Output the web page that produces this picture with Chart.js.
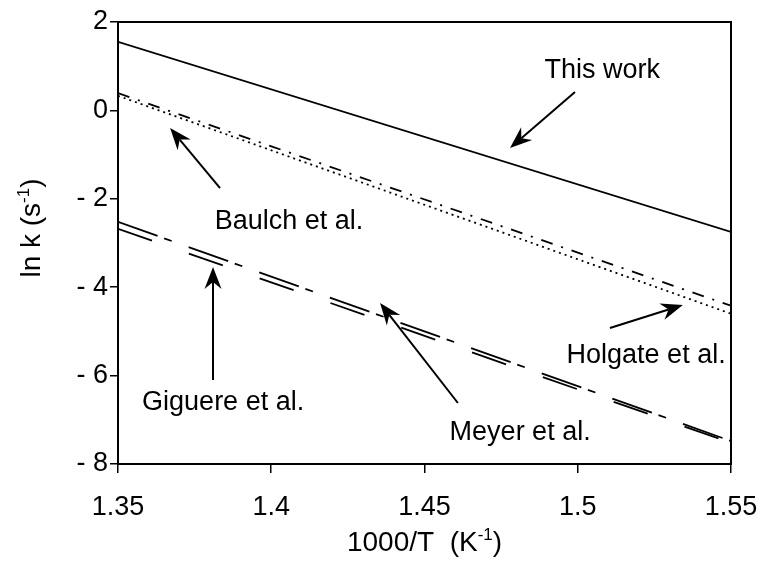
<!DOCTYPE html>
<html>
<head>
<meta charset="utf-8">
<script src="https://cdn.jsdelivr.net/npm/chart.js@4.4.1/dist/chart.umd.min.js"></script>
<style>
  html, body { margin: 0; padding: 0; background: #fff; }
  #wrap { width: 764px; height: 564px; }
</style>
</head>
<body>
<div id="wrap"><canvas id="arrheniusCanvas" width="764" height="564"></canvas></div>
<script>
// axis ticks
const xTicks = [1.35, 1.4, 1.45, 1.5, 1.55];
const yTicks = [2, 0, -2, -4, -6, -8];

// line end points (1000/T, ln k)
const xEnds = [1.35, 1.55];
const thisWork = [1.55, -2.75];
const baulch = [0.39, -4.42];
const holgate = [0.33, -4.6];
const meyer = [-2.52, -7.48];
const giguere = [-2.68, -7.52];

// labels and arrows in data units
const labelTexts = ['This work', 'Baulch et al.', 'Holgate et al.', 'Meyer et al.', 'Giguere et al.'];
const labelX = [1.508, 1.4058, 1.5223, 1.4812, 1.3843];
const labelY = [0.733, -2.683, -5.715, -7.457, -6.778];
const arrowFromX = [1.4991, 1.3833, 1.5105, 1.4609, 1.381];
const arrowFromY = [0.416, -1.756, -4.923, -6.62, -6.1];
const arrowToX = [1.4779, 1.367, 1.5343, 1.4355, 1.381];
const arrowToY = [-0.851, -0.398, -4.403, -4.357, -3.543];

const FONT = "'Liberation Sans', Arial, Helvetica, sans-serif";

function pts(ys) {
    return xEnds.map((x, i) => ({ x: x, y: ys[i] }));
}

function drawArrow(ctx, x0, y0, x1, y1) {
    const ang = Math.atan2(y1 - y0, x1 - x0);
    const c = Math.cos(ang), s = Math.sin(ang);
    const len = 22, half = 8.5, notch = 15;
    ctx.beginPath();
    ctx.moveTo(x0, y0);
    ctx.lineTo(x1 - c * notch, y1 - s * notch);
    ctx.stroke();
    ctx.beginPath();
    ctx.moveTo(x1, y1);
    ctx.lineTo(x1 - c * len - s * half, y1 - s * len + c * half);
    ctx.lineTo(x1 - c * notch, y1 - s * notch);
    ctx.lineTo(x1 - c * len + s * half, y1 - s * len - c * half);
    ctx.closePath();
    ctx.fill();
}

// text with a "-1" superscript before the closing bracket
function drawSupTitle(ctx, base, sup, tail, cx, cy) {
    const mainFont = '28px ' + FONT;
    const supFont = '17px ' + FONT;
    ctx.font = mainFont;
    const w1 = ctx.measureText(base).width;
    const w3 = ctx.measureText(tail).width;
    ctx.font = supFont;
    const w2 = ctx.measureText(sup).width;
    let x = cx - (w1 + w2 + w3) / 2;
    ctx.textAlign = 'left';
    ctx.textBaseline = 'alphabetic';
    ctx.font = mainFont;
    ctx.fillText(base, x, cy + 10);
    x += w1;
    ctx.font = supFont;
    ctx.fillText(sup, x, cy - 1);
    x += w2;
    ctx.font = mainFont;
    ctx.fillText(tail, x, cy + 10);
}

const annotations = {
    id: 'annotations',
    afterDraw(chart) {
        const ctx = chart.ctx;
        const xs = chart.scales.x, ys = chart.scales.y;
        const a = chart.chartArea;
        ctx.save();
        ctx.strokeStyle = '#000';
        ctx.fillStyle = '#000';
        // box
        ctx.lineWidth = 2;
        ctx.strokeRect(a.left, a.top, a.right - a.left, a.bottom - a.top);
        // labels
        ctx.font = '27px ' + FONT;
        ctx.textAlign = 'center';
        ctx.textBaseline = 'alphabetic';
        labelTexts.forEach((t, i) => {
            ctx.fillText(t, xs.getPixelForValue(labelX[i]), ys.getPixelForValue(labelY[i]));
        });
        // arrows
        ctx.lineWidth = 2;
        arrowFromX.forEach((v, i) => {
            drawArrow(ctx,
                xs.getPixelForValue(v), ys.getPixelForValue(arrowFromY[i]),
                xs.getPixelForValue(arrowToX[i]), ys.getPixelForValue(arrowToY[i]));
        });
        // axis titles
        drawSupTitle(ctx, '1000/T  (K', '-1', ')', (a.left + a.right) / 2, 541);
        ctx.translate(30, 228);
        ctx.rotate(-Math.PI / 2);
        drawSupTitle(ctx, 'ln k (s', '-1', ')', 0, 0);
        ctx.restore();
    }
};

const lineBase = { borderColor: '#000', borderWidth: 1.8, pointRadius: 0, fill: false, tension: 0 };

new Chart(document.getElementById('arrheniusCanvas'), {
    type: 'line',
    data: {
        datasets: [
            Object.assign({ label: 'This work', data: pts(thisWork), borderDash: [] }, lineBase),
            Object.assign({ label: 'Baulch et al.', data: pts(baulch), borderDash: [12, 9, 2, 9] }, lineBase),
            Object.assign({ label: 'Holgate et al.', data: pts(holgate), borderDash: [2, 4] }, lineBase),
            Object.assign({ label: 'Meyer et al.', data: pts(meyer), borderDash: [42, 7, 8, 18] }, lineBase),
            Object.assign({ label: 'Giguere et al.', data: pts(giguere), borderDash: [36, 39] }, lineBase)
        ]
    },
    plugins: [annotations],
    options: {
        responsive: false,
        animation: false,
        layout: { padding: { top: 22, right: 33, left: 0, bottom: 0 } },
        plugins: { legend: { display: false }, tooltip: { enabled: false } },
        scales: {
            x: {
                type: 'linear', min: 1.35, max: 1.55,
                afterBuildTicks: s => { s.ticks = xTicks.map(v => ({ value: v })); },
                afterFit: s => { s.height = 100; s.paddingLeft = 0; s.paddingRight = 0; },
                ticks: { color: '#000', font: { family: FONT, size: 27 }, padding: 18, maxRotation: 0,
                         callback: v => String(parseFloat(v.toFixed(2))) },
                grid: { drawOnChartArea: false, drawTicks: true, tickLength: 9, color: '#000', lineWidth: 1.5 },
                border: { display: true, color: '#000', width: 2 }
            },
            y: {
                type: 'linear', min: -8, max: 2,
                afterBuildTicks: s => { s.ticks = yTicks.map(v => ({ value: v })); },
                afterFit: s => { s.width = 118; s.paddingTop = 0; s.paddingBottom = 0; },
                ticks: { color: '#000', font: { family: FONT, size: 27 }, padding: 2,
                         callback: v => v < 0 ? '- ' + Math.abs(v) : String(v) },
                grid: { drawOnChartArea: false, drawTicks: true, tickLength: 8, color: '#000', lineWidth: 1.5 },
                border: { display: true, color: '#000', width: 2 }
            }
        }
    }
});
</script>
</body>
</html>
